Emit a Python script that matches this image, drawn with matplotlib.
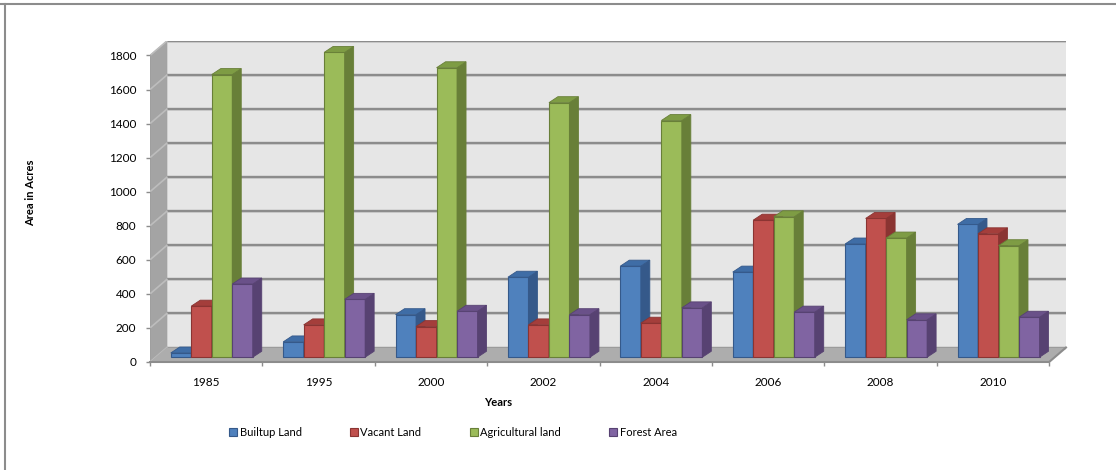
import matplotlib
matplotlib.use("Agg")
import matplotlib.pyplot as plt
from matplotlib.patches import Polygon, Patch
from matplotlib.lines import Line2D

plt.rcParams['font.family'] = ['Lato', 'DejaVu Sans']

# ---- data -------------------------------------------------------------
years = ["1985", "1995", "2000", "2002", "2004", "2006", "2008", "2010"]
builtup = [25, 90, 250, 470, 535, 500, 665, 780]
vacant = [300, 190, 180, 190, 200, 805, 815, 725]
agricultural = [1660, 1790, 1700, 1495, 1390, 825, 700, 655]
forest = [430, 340, 270, 250, 290, 265, 220, 235]
series_names = ["Builtup Land", "Vacant Land", "Agricultural land", "Forest Area"]
y_ticks = [0, 200, 400, 600, 800, 1000, 1200, 1400, 1600, 1800]

series_values = [builtup, vacant, agricultural, forest]
# (front, top, side) shades for each series
series_colors = [
    ("#4F81BD", "#3F6DA6", "#35598A"),
    ("#C0504D", "#A43E3B", "#8A3432"),
    ("#9BBB59", "#7E9C44", "#687F38"),
    ("#8064A2", "#6A5189", "#574272"),
]

# ---- layout -------------------------------------------------------------
W, H = 1116, 470
fig = plt.figure(figsize=(W / 100, H / 100), dpi=100)
fig.patch.set_facecolor("white")

ax = fig.add_axes([150 / W, (H - 362) / H, (1066 - 150) / W, (362 - 41) / H])

n = len(years)
ymax = y_ticks[-1]
DX, DY = 0.15, 85          # depth of the walls (category units, value units)
T0 = 0.33                  # depth at which the bar fronts stand
BW = 0.1824                # bar width
SDX, SDY = 0.08, 35        # bar depth

ax.set_xlim(0, n + DX)
ax.set_ylim(0, ymax + DY)
for s in ax.spines.values():
    s.set_visible(False)
ax.patch.set_visible(False)

# back wall
ax.add_patch(Polygon([(DX, DY), (n + DX, DY), (n + DX, ymax + DY), (DX, ymax + DY)],
                     closed=True, facecolor="#E6E6E6", edgecolor="none", zorder=0))
# left side wall
ax.add_patch(Polygon([(0, 0), (DX, DY), (DX, ymax + DY), (0, ymax)],
                     closed=True, facecolor="#A4A4A4", edgecolor="#9A9A9A", lw=0.6, zorder=0.1))

# gridlines on the back wall and the side wall
for v in y_ticks:
    ax.plot([DX, n + DX], [v + DY, v + DY], color="#8C8C8C", lw=1.7,
            solid_capstyle="butt", zorder=0.5)
    ax.plot([DX, n + DX], [v + DY - 5, v + DY - 5], color="#D2D2D2", lw=0.6,
            solid_capstyle="butt", zorder=0.45)
    ax.plot([0, DX], [v, v + DY], color="#BDBDBD", lw=1.2, zorder=0.5)

# floor
ax.add_patch(Polygon([(0, 0), (n, 0), (n + DX, DY), (DX, DY)],
                     closed=True, facecolor="#ADADAD", edgecolor="none", zorder=0.8))
ax.plot([0, n, n + DX], [0, 0, DY], color="#8C8C8C", lw=1.5, zorder=0.85,
        clip_on=False)

# bars, drawn left to right so that each one hides its left neighbour's side
order = 0
for i in range(n):
    for j, vals in enumerate(series_values):
        front, top, side = series_colors[j]
        x0 = i + 0.5 - 2 * BW + j * BW + T0 * DX
        y0 = T0 * DY
        h = vals[i]
        z = 2 + order * 0.01
        ax.bar([x0], [h], width=BW, bottom=y0, align="edge",
               color=front, edgecolor=side, linewidth=0.8, zorder=z)
        ax.add_patch(Polygon([(x0 + BW, y0), (x0 + BW + SDX, y0 + SDY),
                              (x0 + BW + SDX, y0 + h + SDY), (x0 + BW, y0 + h)],
                             closed=True, facecolor=side, edgecolor=side,
                             lw=0.6, zorder=z + 0.001))
        ax.add_patch(Polygon([(x0, y0 + h), (x0 + BW, y0 + h),
                              (x0 + BW + SDX, y0 + h + SDY), (x0 + SDX, y0 + h + SDY)],
                             closed=True, facecolor=top, edgecolor=side,
                             lw=0.6, zorder=z + 0.002))
        order += 1

# axes ticks and labels
ax.set_yticks(y_ticks)
ax.set_yticklabels([str(v) for v in y_ticks])
ax.tick_params(axis="y", direction="out", length=3, width=1, color="#8C8C8C",
               labelsize=8.5, pad=7)
ax.set_xticks([i + 0.5 for i in range(n)])
ax.set_xticklabels(years)
ax.set_xticks(list(range(n + 1)), minor=True)
ax.tick_params(axis="x", which="major", length=0, labelsize=8.5, pad=11)
ax.tick_params(axis="x", which="minor", direction="out", length=3, width=1,
               color="#8C8C8C")

fig.text(31 / W, 1 - 193 / H, "Area in Acres", rotation=90, fontsize=8,
         fontweight="bold", ha="center", va="center")
fig.text(498 / W, 1 - 402 / H, "Years", fontsize=8, fontweight="bold",
         ha="center", va="center")

handles = [Patch(facecolor=c[0], edgecolor=c[2], linewidth=0.8) for c in series_colors]
fig.legend(handles, series_names, loc="center",
           bbox_to_anchor=(453 / W, 1 - 432 / H), ncol=4, frameon=False,
           fontsize=8, handlelength=0.7, handleheight=0.7,
           handletextpad=0.25, columnspacing=4.35)

# chart frame (top and left edges)
fig.add_artist(Line2D([0, 1], [1 - 4 / H, 1 - 4 / H], transform=fig.transFigure,
                      color="#8C8C8C", lw=1.5))
fig.add_artist(Line2D([5 / W, 5 / W], [0, 1 - 4 / H], transform=fig.transFigure,
                      color="#8C8C8C", lw=1.5))

fig.savefig("out.png", dpi=100)
